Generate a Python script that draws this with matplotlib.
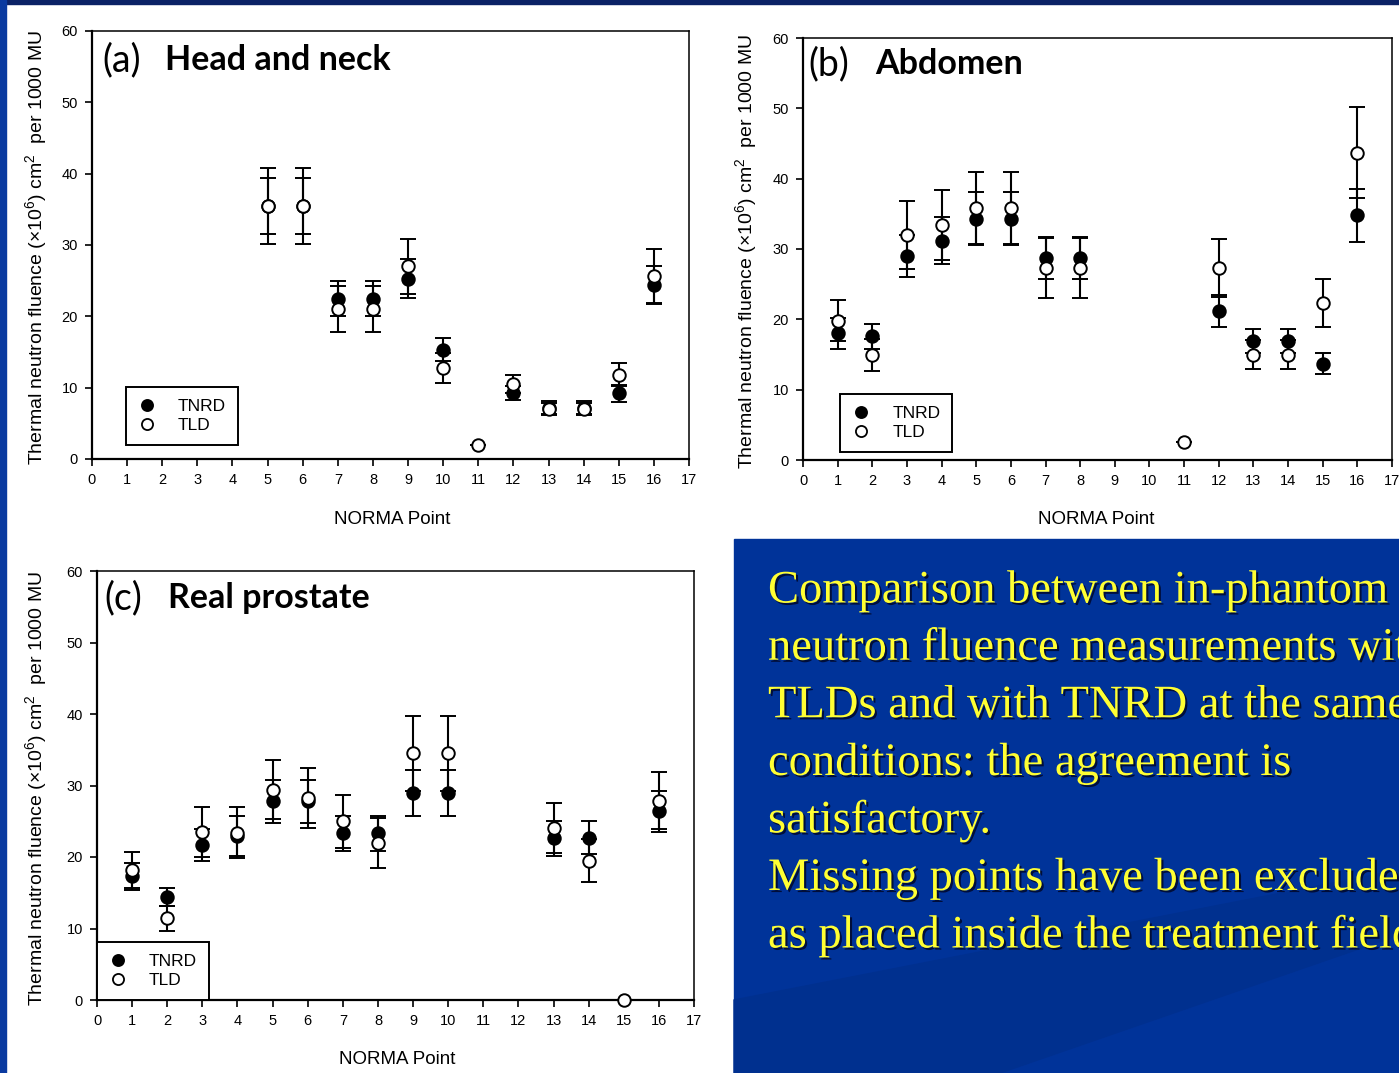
import numpy as np
import matplotlib
matplotlib.use("Agg")
import matplotlib.pyplot as plt
import matplotlib.patches as mpatches
import matplotlib.patheffects as pe
from matplotlib.lines import Line2D

plt.rcParams['font.family'] = ['Liberation Sans', 'DejaVu Sans']
plt.rcParams['mathtext.fontset'] = 'custom'
plt.rcParams['mathtext.rm'] = 'Liberation Sans'
plt.rcParams['mathtext.it'] = 'Liberation Sans'

# ---- data (NORMA point, value, error) ----
a_x_tnrd = [5, 6, 7, 8, 9, 10, 12, 13, 14, 15, 16]
a_tnrd = [35.5, 35.5, 22.5, 22.5, 25.3, 15.3, 9.3, 7.2, 7.2, 9.2, 24.4]
a_tnrd_err = [3.9, 3.9, 2.4, 2.4, 2.7, 1.6, 1.0, 0.9, 0.9, 1.2, 2.7]
a_x_tld = [5, 6, 7, 8, 9, 10, 11, 12, 13, 14, 15, 16]
a_tld = [35.5, 35.5, 21.0, 21.0, 27.0, 12.8, 2.0, 10.5, 7.0, 7.0, 11.8, 25.7]
a_tld_err = [5.3, 5.3, 3.2, 3.2, 3.9, 2.1, 0.0, 1.3, 0.9, 0.9, 1.6, 3.8]

b_x_tnrd = [1, 2, 3, 4, 5, 6, 7, 8, 12, 13, 14, 15, 16]
b_tnrd = [18.0, 17.6, 29.0, 31.2, 34.3, 34.3, 28.7, 28.7, 21.2, 16.9, 16.9, 13.7, 34.8]
b_tnrd_err = [2.2, 1.8, 3.0, 3.3, 3.8, 3.8, 3.0, 3.0, 2.3, 1.7, 1.7, 1.5, 3.8]
b_x_tld = [1, 2, 3, 4, 5, 6, 7, 8, 11, 12, 13, 14, 15, 16]
b_tld = [19.8, 14.9, 32.0, 33.4, 35.8, 35.8, 27.3, 27.3, 2.5, 27.3, 15.0, 15.0, 22.3, 43.7]
b_tld_err = [2.9, 2.3, 4.8, 5.0, 5.1, 5.1, 4.2, 4.2, 0.0, 4.1, 2.1, 2.1, 3.4, 6.5]

c_x_tnrd = [1, 2, 3, 4, 5, 6, 7, 8, 9, 10, 13, 14, 16]
c_tnrd = [17.3, 14.4, 21.7, 23.0, 27.8, 27.8, 23.3, 23.3, 28.9, 28.9, 22.6, 22.7, 26.4]
c_tnrd_err = [1.9, 1.3, 2.2, 2.8, 3.0, 3.0, 2.4, 2.4, 3.2, 3.2, 2.5, 2.3, 2.9]
c_x_tld = [1, 2, 3, 4, 5, 6, 7, 8, 9, 10, 13, 14, 15, 16]
c_tld = [18.2, 11.4, 23.5, 23.4, 29.4, 28.3, 25.0, 21.9, 34.5, 34.5, 24.0, 19.5, 0.0, 27.9]
c_tld_err = [2.5, 1.8, 3.5, 3.6, 4.1, 4.2, 3.7, 3.5, 5.2, 5.2, 3.5, 3.0, 0.0, 4.0]

titles = [("(a)", "Head and neck"), ("(b)", "Abdomen"), ("(c)", "Real prostate")]
ylab = r'Thermal neutron fluence ($\times$10$^{6}$) cm$^{2}$  per 1000 MU'
caption = ["Comparison between in-phantom",
           "neutron fluence measurements with",
           "TLDs and with TNRD at the same",
           "conditions: the agreement is",
           "satisfactory.",
           "Missing points have been excluded",
           "as placed inside the treatment field"]

W, H = 1399, 1073
fig = plt.figure(figsize=(W / 100, H / 100), dpi=100)
fig.patch.set_facecolor('white')

def fx(px):
    return px / W

def fy(py):
    return 1 - py / H

# slide background bits
fig.patches.append(mpatches.Rectangle((0, fy(4)), 1, 4 / H, transform=fig.transFigure,
                                      color='#0b2266', zorder=0))
fig.patches.append(mpatches.Rectangle((0, 0), fx(6), 1, transform=fig.transFigure,
                                      color='#0a3aa0', zorder=0))
fig.patches.append(mpatches.Rectangle((fx(734), 0), 1, fy(539), transform=fig.transFigure,
                                      color='#003399', zorder=0))
fig.patches.append(mpatches.Polygon([(fx(734), fy(1073)), (fx(734), fy(1000)), (fx(1399), fy(870)),
                                     (fx(1399), fy(935)), (fx(1000), fy(1073))],
                                    closed=True, transform=fig.transFigure, color='#00308f', zorder=0))

# axes boxes (pixels: left, right, top, bottom)
boxes = [(92, 689, 31, 459), (803, 1392, 38, 460), (97, 694, 571, 1000)]
data = [(a_x_tnrd, a_tnrd, a_tnrd_err, a_x_tld, a_tld, a_tld_err),
        (b_x_tnrd, b_tnrd, b_tnrd_err, b_x_tld, b_tld, b_tld_err),
        (c_x_tnrd, c_tnrd, c_tnrd_err, c_x_tld, c_tld, c_tld_err)]
leg_pos = [(0.057, 0.033), (0.063, 0.019), (0.0, 0.0)]
ylab_x = [36, 746, 36]
xlab_pos = [(392, 519), (1096, 519), (397, 1059)]

handles = [Line2D([], [], ls='none', marker='o', markersize=8, markerfacecolor='black',
                  markeredgecolor='black', markeredgewidth=1.3),
           Line2D([], [], ls='none', marker='o', markersize=8, markerfacecolor='white',
                  markeredgecolor='black', markeredgewidth=1.3)]

for i, (l, r, t, b) in enumerate(boxes):
    ax = fig.add_axes([fx(l), fy(b), fx(r) - fx(l), (b - t) / H])
    xt, yt, et, xl, yl, el = data[i]
    ekw = dict(fmt='o', ecolor='black', elinewidth=1.5, capsize=5.5, capthick=1.5,
               markersize=9, markeredgecolor='black', markeredgewidth=1.4, clip_on=False)
    ax.errorbar(xt, yt, yerr=et, markerfacecolor='black', zorder=3, **ekw)
    ax.errorbar(xl, yl, yerr=el, markerfacecolor='white', zorder=4, **ekw)
    ax.set_xlim(0, 17)
    ax.set_ylim(0, 60)
    ax.set_xticks(np.arange(0, 18))
    ax.set_yticks(np.arange(0, 61, 10))
    ax.tick_params(direction='out', length=5, width=1.2, labelsize=10.5, pad=5)
    for s in ['left', 'bottom']:
        ax.spines[s].set_linewidth(1.6)
    for s in ['top', 'right']:
        ax.spines[s].set_linewidth(1.1)
    leg = ax.legend(handles, ['TNRD', 'TLD'], loc='lower left', bbox_to_anchor=leg_pos[i],
                    borderaxespad=0, fancybox=False, edgecolor='black', framealpha=1,
                    fontsize=12.5, handlelength=1.0, handletextpad=1.3, borderpad=0.7,
                    labelspacing=0.2)
    leg.get_frame().set_linewidth(1.4)
    leg.set_zorder(5)
    tx0 = [0.018, 0.0085, 0.013][i]
    tx1 = [0.123, 0.122, 0.119][i]
    ty = [0.932, 0.938, 0.937][i]
    ax.text(tx0, ty, titles[i][0], transform=ax.transAxes, va='center', ha='left',
            fontsize=27, family=['Lato', 'DejaVu Sans'])
    ax.text(tx1, ty, titles[i][1], transform=ax.transAxes, va='center', ha='left',
            fontsize=24.5, fontweight='bold', family=['Lato', 'DejaVu Sans'])
    fig.text(fx(ylab_x[i]), fy((t + b) / 2 + 3), ylab, rotation=90, ha='center', va='center',
             fontsize=14)
    fig.text(fx(xlab_pos[i][0]), fy(xlab_pos[i][1]), 'NORMA Point', ha='center', va='center',
             fontsize=13.5)

# caption in the blue box (right part runs off the slide, as in the original)
for k, line in enumerate(caption):
    fig.text(fx(768), fy(591 + k * 57.5), line, ha='left', va='center', color='#ffff33',
             fontsize=33.5, family=['Liberation Serif', 'DejaVu Serif'],
             path_effects=[pe.withSimplePatchShadow(offset=(1.5, -1.5), shadow_rgbFace='#000a30',
                                                    alpha=0.9)])

fig.savefig('out.png', dpi=100)
